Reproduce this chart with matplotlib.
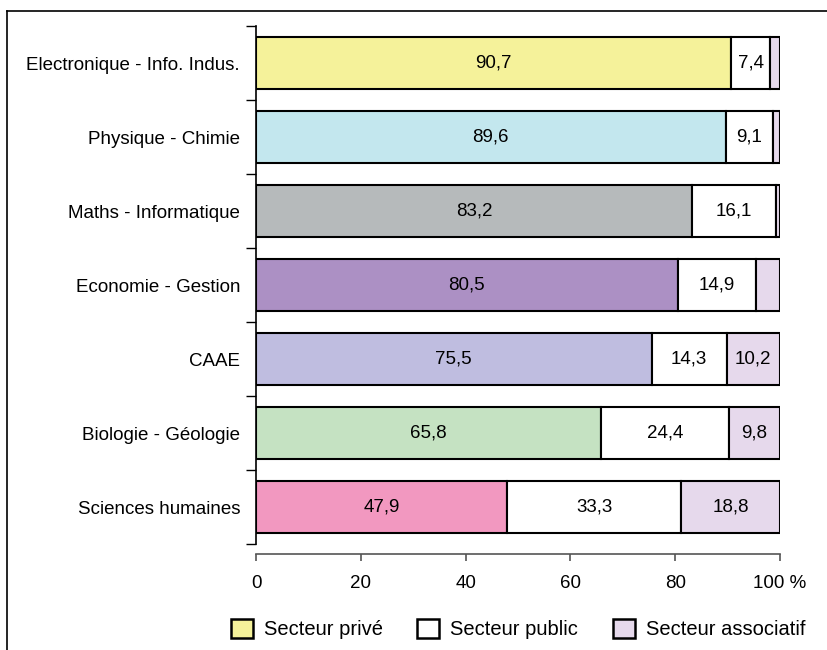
import numpy as np
import matplotlib
matplotlib.use("Agg")
import matplotlib.pyplot as plt
from matplotlib.lines import Line2D
from matplotlib.patches import Patch

plt.rcParams["font.family"] = ["Liberation Sans", "DejaVu Sans"]

# data
categories = [
    "Electronique - Info. Indus.",
    "Physique - Chimie",
    "Maths - Informatique",
    "Economie - Gestion",
    "CAAE",
    "Biologie - Géologie",
    "Sciences humaines",
]
prive = [90.7, 89.6, 83.2, 80.5, 75.5, 65.8, 47.9]
public = [7.4, 9.1, 16.1, 14.9, 14.3, 24.4, 33.3]
associatif = [1.9, 1.3, 0.7, 4.6, 10.2, 9.8, 18.8]
prive_labels = ["90,7", "89,6", "83,2", "80,5", "75,5", "65,8", "47,9"]
public_labels = ["7,4", "9,1", "16,1", "14,9", "14,3", "24,4", "33,3"]
assoc_labels = ["", "", "", "", "10,2", "9,8", "18,8"]
prive_colors = ["#F5F29A", "#C3E7EE", "#B6BABB", "#AC90C4",
                "#BFBDE0", "#C5E2C2", "#F298C0"]
public_color = "#FFFFFF"
assoc_color = "#E6D9EC"
xticks = [0, 20, 40, 60, 80, 100]
xtick_labels = ["0", "20", "40", "60", "80", "100 %"]

fig = plt.figure(figsize=(8.27, 6.5), dpi=100)
ax = fig.add_axes([256 / 827, 1 - 544 / 650, 524 / 827, 518 / 650])

y = np.arange(len(categories))
h = 0.70
prive = np.array(prive)
public = np.array(public)
associatif = np.array(associatif)

ax.barh(y, prive, height=h, color=prive_colors, edgecolor="black", linewidth=1.5)
ax.barh(y, public, left=prive, height=h, color=public_color,
        edgecolor="black", linewidth=1.5)
ax.barh(y, associatif, left=prive + public, height=h, color=assoc_color,
        edgecolor="black", linewidth=1.5)

fs = 13.5
for i in range(len(categories)):
    ax.text(prive[i] / 2, y[i], prive_labels[i], ha="center", va="center", fontsize=fs)
    ax.text(prive[i] + public[i] / 2, y[i], public_labels[i],
            ha="center", va="center", fontsize=fs)
    if assoc_labels[i]:
        ax.text(prive[i] + public[i] + associatif[i] / 2, y[i], assoc_labels[i],
                ha="center", va="center", fontsize=fs)

ax.set_xlim(0, 100)
ax.set_ylim(len(categories) - 0.5, -0.5)

ax.set_yticks(y)
ax.set_yticklabels(categories)
ax.set_yticks(np.arange(len(categories) + 1) - 0.5, minor=True)
ax.tick_params(axis="y", which="major", length=0, pad=11.5, labelsize=fs)
ax.tick_params(axis="y", which="minor", length=7, width=1, color="black", direction="out")

ax.set_xticks(xticks)
ax.set_xticklabels(xtick_labels)
ax.tick_params(axis="x", length=5, width=1.2, color="#555555", direction="out",
               pad=10, labelsize=fs)

ax.spines["top"].set_visible(False)
ax.spines["right"].set_visible(False)
ax.spines["left"].set_linewidth(1.2)
ax.spines["bottom"].set_position(("outward", 7))
ax.spines["bottom"].set_color("#555555")
ax.spines["bottom"].set_linewidth(1.2)

handles = [
    Patch(facecolor=prive_colors[0], edgecolor="black", linewidth=1.8, label="Secteur privé"),
    Patch(facecolor=public_color, edgecolor="black", linewidth=1.8, label="Secteur public"),
    Patch(facecolor=assoc_color, edgecolor="black", linewidth=1.8, label="Secteur associatif"),
]
fig.legend(handles=handles, loc="center", bbox_to_anchor=(518 / 827, 1 - 629 / 650),
           ncol=3, frameon=False, fontsize=14.5, handlelength=1.1, handleheight=1.1,
           handletextpad=0.55, columnspacing=1.7)

# outer frame (cut off at right and bottom)
fig.add_artist(Line2D([7 / 827, 1], [1 - 11 / 650, 1 - 11 / 650],
                      transform=fig.transFigure, color="black", linewidth=1.2))
fig.add_artist(Line2D([7 / 827, 7 / 827], [0, 1 - 11 / 650],
                      transform=fig.transFigure, color="black", linewidth=1.2))

fig.savefig("out.png", dpi=100)
